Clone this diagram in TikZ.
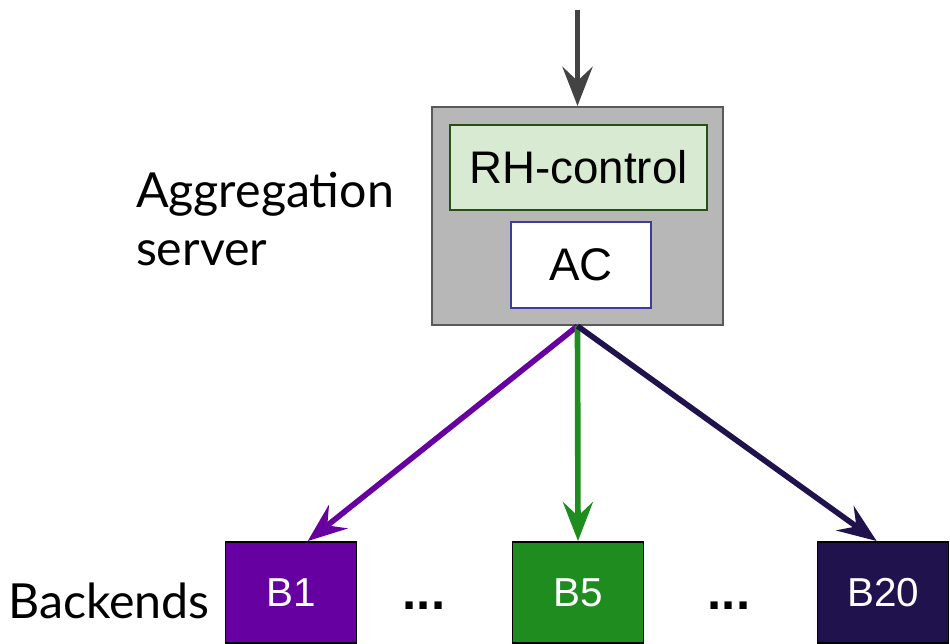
\documentclass[tikz,border=0pt]{standalone}
\usepackage{fontspec}
\setmainfont{Lato}
\newfontfamily\arialfont{Liberation Sans}
\usetikzlibrary{arrows.meta}
\definecolor{srvgray}{HTML}{B7B7B7}
\definecolor{srvedge}{HTML}{595959}
\definecolor{rhfill}{HTML}{D9EAD3}
\definecolor{rhedge}{HTML}{274E13}
\definecolor{acedge}{HTML}{3C3CA0}
\definecolor{bpurple}{HTML}{6600A1}
\definecolor{bgreen}{HTML}{1E8C1E}
\definecolor{bnavy}{HTML}{20124D}
\definecolor{inarrow}{HTML}{434343}

\begin{document}
\begin{tikzpicture}[
    every node/.style={inner sep=0pt},
    boxtext/.style={font=\arialfont\fontsize{26}{30}\selectfont},
    srvbox/.style={rectangle, draw=srvedge, line width=1.2pt, fill=srvgray,
                   minimum width=5.82cm, minimum height=4.36cm},
    innerbox/.style={rectangle, line width=0.9pt, boxtext},
    backend/.style={rectangle, draw=black, line width=1.1pt, text=white,
                    minimum width=2.62cm, minimum height=2.02cm,
                    font=\arialfont\fontsize{23}{28}\selectfont},
    lbl/.style={font=\fontsize{27.5}{33}\selectfont, align=left},
    gap/.style={font=\arialfont\bfseries\fontsize{29}{34}\selectfont},
    flow/.style={line width=3.2pt,
                 -{Stealth[length=0.78cm, width=0.6cm, inset=0.28cm]}}
]
  \useasboundingbox (0,0) rectangle (19,12.88);

  % Aggregation server
  \node[srvbox] (server) at (11.55, 8.56) {};
  \node[innerbox, draw=rhedge, fill=rhfill, minimum width=5.14cm,
        minimum height=1.70cm] (rhctl) at (11.57, 9.53) {RH-control};
  \node[innerbox, draw=acedge, fill=white, minimum width=2.80cm,
        minimum height=1.72cm] (ac) at (11.62, 7.58) {AC};
  \node[lbl] (srvlbl) at (5.30, 8.50) {Aggregation\\server};

  % incoming request
  \coordinate (entry) at (11.55, 12.68);
  \draw[flow, draw=inarrow] (entry) -- (server.north);

  % Backends row
  \node[backend, fill=bpurple] (b1)  at (5.82, 1.03)  {B1};
  \node[backend, fill=bgreen]  (b5)  at (11.56, 1.03) {B5};
  \node[backend, fill=bnavy]   (b20) at (17.66, 1.03) {B20};
  \node[lbl] (backlbl) at (2.18, 0.86) {Backends};
  \node[gap] (dots1) at (8.48, 0.76) {...};
  \node[gap] (dots2) at (14.58, 0.76) {...};

  % fan-out
  \draw[flow, draw=bpurple] (server.south) -- (b1.72);
  \draw[flow, draw=bgreen]  (server.south) -- (b5.north);
  \draw[flow, draw=bnavy]   (server.south) -- (b20.97);
\end{tikzpicture}
\end{document}
